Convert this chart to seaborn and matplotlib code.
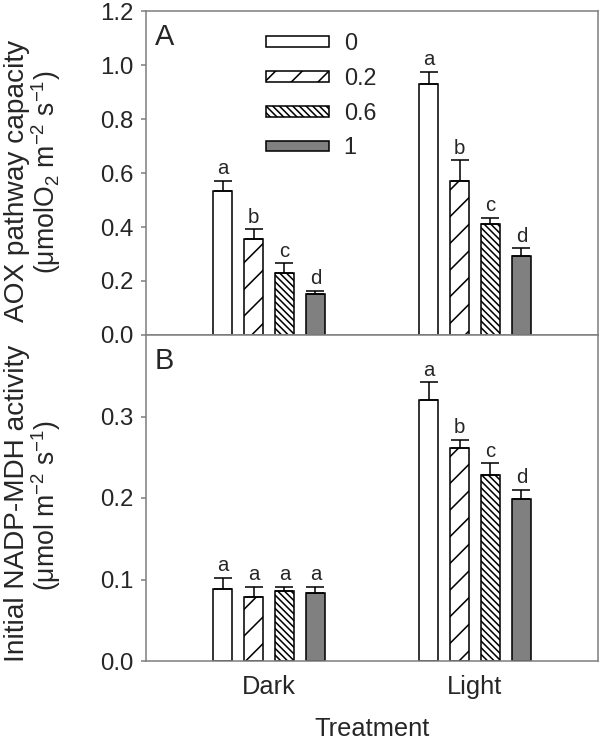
import numpy as np
import pandas as pd
import matplotlib
matplotlib.use("Agg")
import matplotlib.pyplot as plt
from matplotlib.patches import Patch
from matplotlib.container import BarContainer
import seaborn as sns

# ---------------- data ----------------
treatments = ["Dark", "Light"]
doses = ["0", "0.2", "0.6", "1"]

aox_dark = [0.533, 0.354, 0.228, 0.152]
aox_dark_err = [0.037, 0.037, 0.037, 0.012]
aox_light = [0.930, 0.571, 0.410, 0.294]
aox_light_err = [0.045, 0.076, 0.024, 0.027]
aox_letters_dark = ["a", "b", "c", "d"]
aox_letters_light = ["a", "b", "c", "d"]

mdh_dark = [0.088, 0.0785, 0.086, 0.083]
mdh_dark_err = [0.014, 0.0125, 0.005, 0.008]
mdh_light = [0.320, 0.261, 0.228, 0.199]
mdh_light_err = [0.022, 0.010, 0.0146, 0.011]
mdh_letters_dark = ["a", "a", "a", "a"]
mdh_letters_light = ["a", "b", "c", "d"]

aox_yticks = [0.0, 0.2, 0.4, 0.6, 0.8, 1.0, 1.2]
mdh_yticks = [0.0, 0.1, 0.2, 0.3]

# ---------------- style ----------------
sns.set_style("white")
plt.rcParams["font.family"] = ["Liberation Sans", "DejaVu Sans"]
plt.rcParams["mathtext.fontset"] = "custom"
plt.rcParams["mathtext.rm"] = "Liberation Sans"
plt.rcParams["mathtext.it"] = "Liberation Sans"
plt.rcParams["hatch.linewidth"] = 0.7

DPI = 160
fig = plt.figure(figsize=(600 / DPI, 741 / DPI), dpi=DPI)
L, R = 146 / 600, 598 / 600
y_top, y_mid, y_bot = 1 - 11 / 741, 1 - 335 / 741, 1 - 661 / 741
ax1 = fig.add_axes([L, y_mid, R - L, y_top - y_mid])
ax2 = fig.add_axes([L, y_bot, R - L, y_mid - y_bot])

fills = ["white", "white", "white", "#808080"]
hatches = ["", "//", "\\\\\\\\\\\\\\\\", ""]
spine_col = "#7f7f7f"
TICK_FS = 10.8
LABEL_FS = 12.6
UNIT_FS = 12.0
XT_FS = 11.4
LET_FS = 9.2


def make_df(dark, light, derr, lerr, dlet, llet):
    rows = []
    for i, d in enumerate(doses):
        rows.append(dict(Treatment="Dark", Dose=d, value=dark[i], err=derr[i], let=dlet[i]))
        rows.append(dict(Treatment="Light", Dose=d, value=light[i], err=lerr[i], let=llet[i]))
    return pd.DataFrame(rows)


def draw(ax, df, ylim, yticks):
    sns.barplot(data=df, x="Treatment", y="value", hue="Dose", order=treatments,
                hue_order=doses, palette=fills, saturation=1, width=0.6, gap=0.385,
                edgecolor="black", linewidth=0.7, errorbar=None, legend=False, ax=ax)
    bar_conts = [c for c in ax.containers if isinstance(c, BarContainer)]
    for i, cont in enumerate(bar_conts):
        for j, p in enumerate(cont.patches):
            p.set_hatch(hatches[i])
            p.set_edgecolor("black")
            row = df[(df.Dose == doses[i]) & (df.Treatment == treatments[j])].iloc[0]
            x = p.get_x() + p.get_width() / 2
            y = p.get_height()
            ax.errorbar([x], [y], yerr=[[0], [row.err]], fmt="none", ecolor="black",
                        elinewidth=0.7, capsize=4.0, capthick=0.7, zorder=3)
            ax.annotate(row.let, (x, y + row.err), xytext=(0, 1.2), textcoords="offset points",
                        ha="center", va="bottom", fontsize=LET_FS)
    ax.set_xlim(-0.597, 1.597)
    ax.set_ylim(*ylim)
    ax.set_yticks(yticks)
    ax.set_yticklabels([f"{t:.1f}" for t in yticks], fontsize=TICK_FS)
    ax.set_xlabel("")
    ax.set_ylabel("")
    for s in ax.spines.values():
        s.set_visible(True)
        s.set_color(spine_col)
        s.set_linewidth(0.7)
    ax.tick_params(axis="y", direction="out", length=2.3, width=0.7, color=spine_col,
                   pad=3.2, left=True)
    ax.tick_params(axis="x", length=0)


df1 = make_df(aox_dark, aox_light, aox_dark_err, aox_light_err, aox_letters_dark, aox_letters_light)
df2 = make_df(mdh_dark, mdh_light, mdh_dark_err, mdh_light_err, mdh_letters_dark, mdh_letters_light)

draw(ax1, df1, (0, 1.2), aox_yticks)
draw(ax2, df2, (0, 0.4), mdh_yticks)

ax1.set_xticklabels([])
ax2.set_xticks([0, 1])
ax2.set_xticklabels(treatments, fontsize=XT_FS)
ax2.tick_params(axis="x", pad=6.3)
fig.text((L + R) / 2, 1 - 736 / 741, "Treatment", ha="center", va="baseline", fontsize=XT_FS)

ax1.text(0.02, 0.963, "A", transform=ax1.transAxes, fontsize=13, ha="left", va="top")
ax2.text(0.02, 0.963, "B", transform=ax2.transAxes, fontsize=13, ha="left", va="top")

# y labels
fig.text(17 / 600, 1 - 181 / 741, "AOX pathway capacity", rotation=90,
         ha="center", va="center", fontsize=LABEL_FS)
fig.text(46 / 600, 1 - 172 / 741, r"(μmolO$_2$ m$^{-2}$ s$^{-1}$)", rotation=90,
         ha="center", va="center", fontsize=UNIT_FS)
fig.text(17 / 600, 1 - 503 / 741, "Initial NADP-MDH activity", rotation=90,
         ha="center", va="center", fontsize=LABEL_FS)
fig.text(46 / 600, 1 - 505 / 741, r"(μmol m$^{-2}$ s$^{-1}$)", rotation=90,
         ha="center", va="center", fontsize=UNIT_FS)

# legend
handles = [Patch(facecolor=fills[i], edgecolor="black", hatch=hatches[i], linewidth=0.7)
           for i in range(len(doses))]
ax1.legend(handles, doses, loc="upper left", bbox_to_anchor=(0.265, 0.936),
           frameon=False, fontsize=10.5, handlelength=2.7, handleheight=0.34,
           handletextpad=0.64, labelspacing=0.51, borderaxespad=0, borderpad=0)

fig.savefig("out.png", dpi=DPI)
